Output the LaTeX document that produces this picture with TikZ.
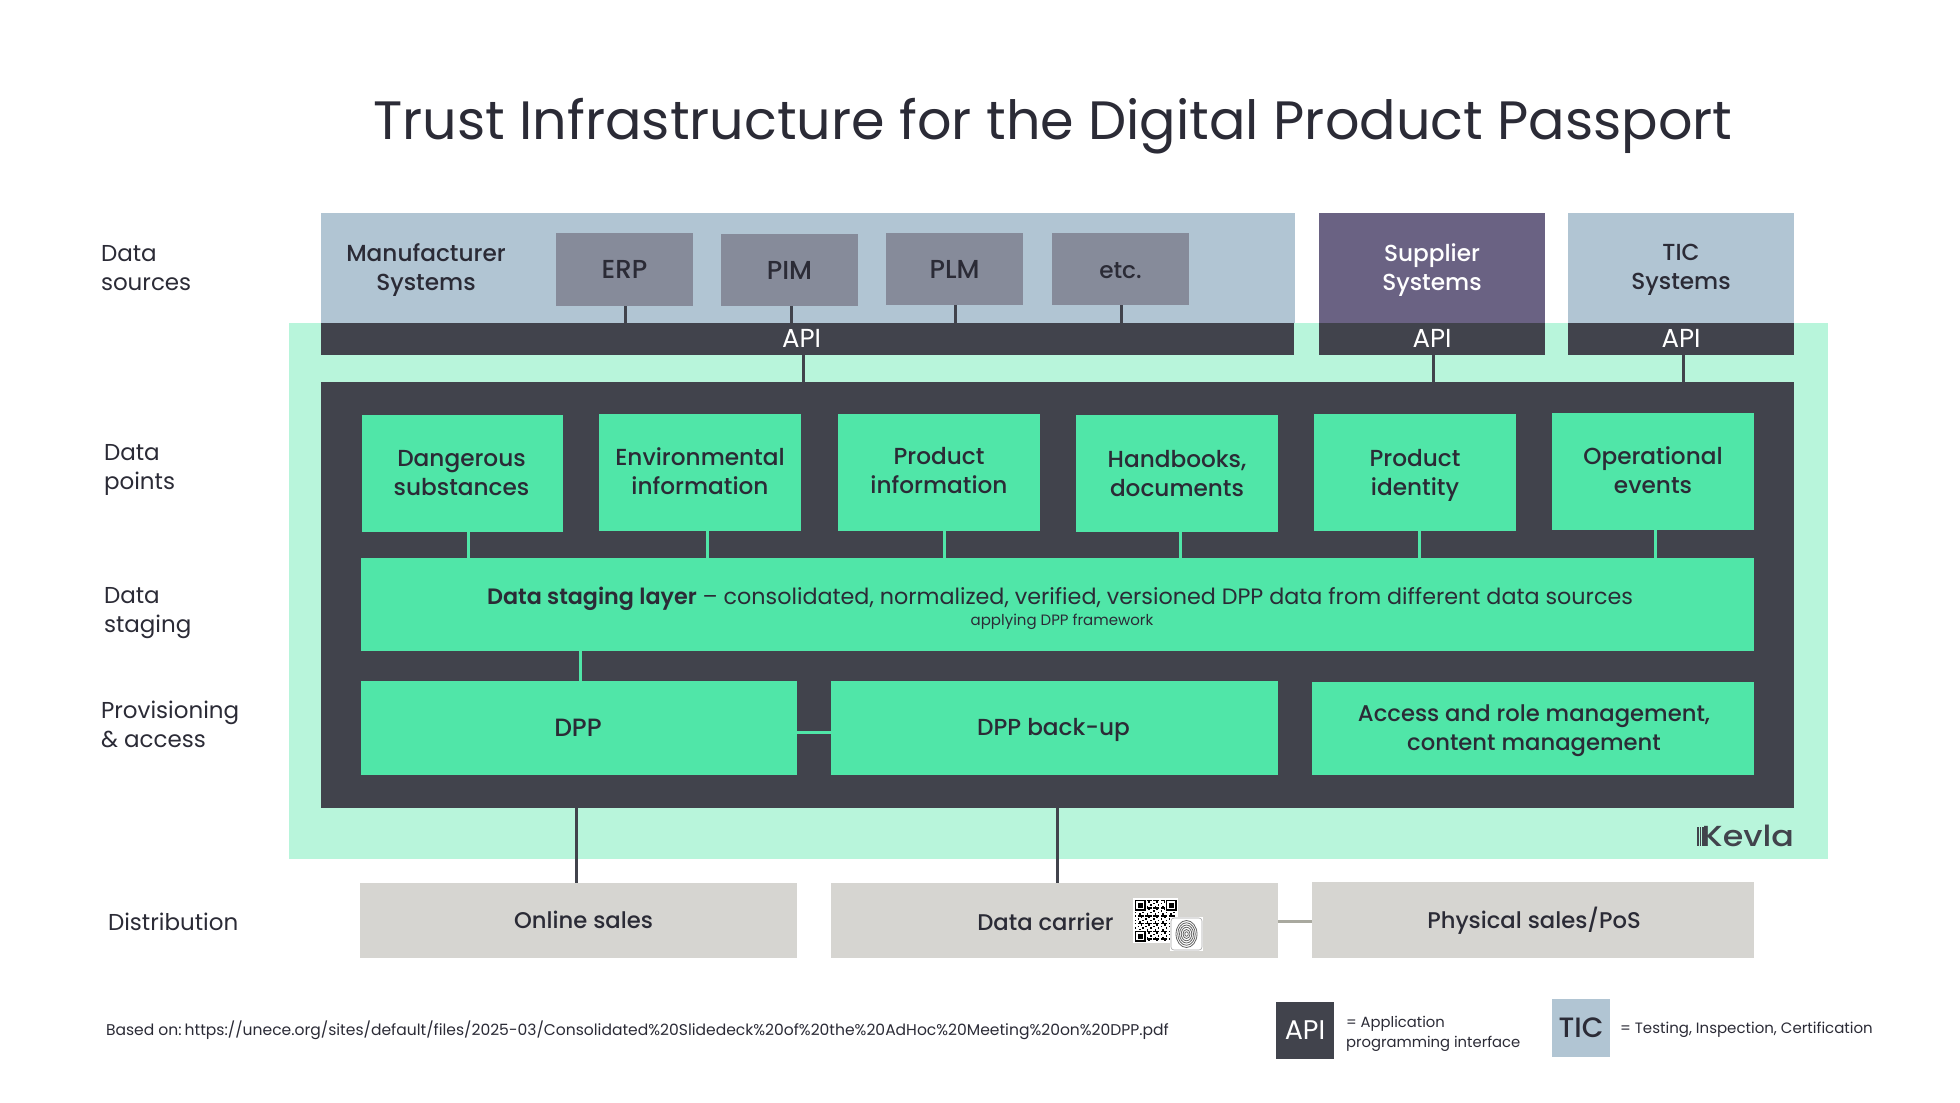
\documentclass[tikz,border=0pt]{standalone}
\usepackage{fontspec}
\setmainfont{Poppins}
\newfontfamily\medf{Poppins}[UprightFont=*-Medium]
\newfontfamily\boldf{Poppins}[UprightFont=*-SemiBold]
\definecolor{ink}{HTML}{2B2B36}
\definecolor{slab}{HTML}{41434C}
\definecolor{grn}{HTML}{50E6A8}
\definecolor{mint}{HTML}{B8F5DB}
\definecolor{bluegrey}{HTML}{B1C5D3}
\definecolor{slate}{HTML}{868B9A}
\definecolor{purp}{HTML}{6A6283}
\definecolor{sand}{HTML}{D6D5D1}
\definecolor{sandline}{HTML}{A9A99F}
\tikzset{
  base/.style={inner sep=0pt,outer sep=0pt,align=center,text=ink},
  boxfs/.style={font=\fontsize{23.2}{29}\selectfont\medf},
  smallfs/.style={font=\fontsize{22.7}{29}\selectfont\medf},
  capsfs/.style={font=\fontsize{26}{29}\selectfont\medf},
  apifs/.style={font=\fontsize{26}{29}\selectfont\rmfamily,text=white},
  lab/.style={base,align=left,anchor=west,font=\fontsize{23}{29}\selectfont},
  darkline/.style={draw=slab,line width=3pt},
  greenline/.style={draw=grn,line width=3pt},
  sandwire/.style={draw=sandline,line width=3pt},
  tiny/.style={base,font=\fontsize{15}{20}\selectfont},
}
% name, x0, y0, x1, y1, box style, text style, text
\newcommand\bx[8]{%
  \pgfmathsetmacro\bw{#4-#2}\pgfmathsetmacro\bh{#5-#3}%
  \node[base,anchor=north west,minimum width=\bw pt,minimum height=\bh pt,#6] (#1) at (#2,#3) {};
  \node[base,boxfs,#7] (#1t) at (#1.center) {#8};}
\begin{document}
\begin{tikzpicture}[x=1pt,y=-1pt]
\useasboundingbox (0,0) rectangle (1960,1103);
\node[base,font=\fontsize{54}{60}\selectfont] (title) at (1053,126) {Trust Infrastructure for the Digital Product Passport};
% labels
\node[lab] (l1) at (101,268) {Data\\sources};
\node[lab] (l2) at (104,470) {Data\\points};
\node[lab] (l3) at (104,613) {Data\\staging};
\node[lab] (l4) at (101,724) {Provisioning\\\& access};
\node[lab] (l5) at (108,922) {Distribution};
% panels
\bx{mintbg}{289}{323}{1828}{859}{fill=mint}{}{}
\bx{manu}{321}{213}{1295}{323}{fill=bluegrey}{xshift=-382pt,yshift=-2pt}{Manufacturer\\Systems}
\bx{supp}{1319}{213}{1545}{323}{fill=purp}{text=white,yshift=-2pt}{Supplier\\Systems}
\bx{ticp}{1568}{213}{1794}{323}{fill=bluegrey}{yshift=-2pt}{TIC\\Systems}
\bx{erp}{556}{233}{693}{306}{fill=slate}{capsfs}{ERP}
\bx{pim}{721}{234}{858}{306}{fill=slate}{capsfs}{PIM}
\bx{plm}{886}{233}{1023}{305}{fill=slate}{capsfs}{PLM}
\bx{etc}{1052}{233}{1189}{305}{fill=slate}{yshift=-2pt}{etc.}
\bx{api1}{321}{323}{1294}{355}{fill=slab}{apifs,xshift=-6pt,yshift=1pt}{API}
\bx{api2}{1319}{323}{1545}{355}{fill=slab}{apifs,yshift=1pt}{API}
\bx{api3}{1568}{323}{1794}{355}{fill=slab}{apifs,yshift=1pt}{API}
\bx{core}{321}{382}{1794}{808}{fill=slab}{}{}
\coordinate (x1) at (625,0);\coordinate (x2) at (791.5,0);\coordinate (x3) at (955.5,0);\coordinate (x4) at (1121,0);
\draw[darkline] (x1 |- erp.south) -- (x1 |- api1.north);
\draw[darkline] (x2 |- pim.south) -- (x2 |- api1.north);
\draw[darkline] (x3 |- plm.south) -- (x3 |- api1.north);
\draw[darkline] (x4 |- etc.south) -- (x4 |- api1.north);
\coordinate (x5) at (803.5,0);\coordinate (x6) at (1433.5,0);\coordinate (x7) at (1683,0);
\draw[darkline] (x5 |- api1.south) -- (x5 |- core.north);
\draw[darkline] (x6 |- api2.south) -- (x6 |- core.north);
\draw[darkline] (x7 |- api3.south) -- (x7 |- core.north);
% data points
\bx{dang}{362}{415}{563}{532}{fill=grn}{xshift=-1pt}{Dangerous\\substances}
\bx{envi}{599}{414}{801}{531}{fill=grn}{yshift=1pt}{Environmental\\information}
\bx{prod}{838}{414}{1040}{531}{fill=grn}{yshift=2pt}{Product\\information}
\bx{hand}{1076}{415}{1278}{532}{fill=grn}{}{Handbooks,\\documents}
\bx{iden}{1314}{414}{1516}{531}{fill=grn}{yshift=-3pt}{Product\\identity}
\bx{oper}{1552}{413}{1754}{530}{fill=grn}{yshift=1pt}{Operational\\events}
\bx{stag}{361}{558}{1754}{651}{fill=grn}{}{}
\node[base,font=\fontsize{22.25}{29}\selectfont] (stagt) at (1060,599) {{\boldf Data staging layer} – consolidated, normalized, verified, versioned DPP data from different data sources};
\node[tiny] (stags) at (1062,622) {applying DPP framework};
\coordinate (g1) at (468.5,0);\coordinate (g2) at (707.5,0);\coordinate (g3) at (944.5,0);\coordinate (g4) at (1180.5,0);\coordinate (g5) at (1419.5,0);\coordinate (g6) at (1655.5,0);\coordinate (g7) at (580.5,0);
\draw[greenline] (g1 |- dang.south) -- (g1 |- stag.north);
\draw[greenline] (g2 |- envi.south) -- (g2 |- stag.north);
\draw[greenline] (g3 |- prod.south) -- (g3 |- stag.north);
\draw[greenline] (g4 |- hand.south) -- (g4 |- stag.north);
\draw[greenline] (g5 |- iden.south) -- (g5 |- stag.north);
\draw[greenline] (g6 |- oper.south) -- (g6 |- stag.north);
% provisioning
\bx{dpp}{361}{681}{797}{775}{fill=grn}{font=\fontsize{25}{29}\selectfont\medf,xshift=-1pt}{DPP}
\bx{back}{831}{681}{1278}{775}{fill=grn}{yshift=-2pt,xshift=-1pt}{DPP back-up}
\bx{acce}{1312}{682}{1754}{775}{fill=grn}{smallfs,yshift=-2pt,xshift=1pt}{Access and role management,\\content management}
\draw[greenline] (g7 |- stag.south) -- (g7 |- dpp.north);
\coordinate (h1) at (0,732);
\draw[greenline] (dpp.east |- h1) -- (back.west |- h1);
% distribution
\bx{onli}{360}{883}{797}{958}{fill=sand}{smallfs,xshift=5pt,yshift=1pt}{Online sales}
\bx{carr}{831}{883}{1278}{958}{fill=sand}{smallfs,xshift=-9pt,yshift=-1pt}{Data carrier}
\bx{phys}{1312}{882}{1754}{958}{fill=sand}{smallfs,yshift=-1pt,xshift=1pt}{Physical sales/PoS}
\coordinate (d1) at (576.5,0);\coordinate (d2) at (1057,0);\coordinate (h2) at (0,921);
\draw[darkline] (d1 |- core.south) -- (d1 |- onli.north);
\draw[darkline] (d2 |- core.south) -- (d2 |- carr.north);
\draw[sandwire] (carr.east |- h2) -- (phys.west |- h2);
% QR code
\fill[white] (1133,898) rectangle (1178,943);
\foreach \i in {0,...,26}{\foreach \j in {0,...,26}{
  \pgfmathparse{int(mod(\i*\i*7+\j*\j*5+\i*\j*3+\i+2*\j,5)<2 ? 1 : 0)}
  \ifnum\pgfmathresult=1
  \fill[black] ({1134.5+\i*1.55},{899.5+\j*1.55}) rectangle ++(1.55,1.55);
  \fi
}}
\foreach \ox/\oy in {1134.5/899.5,1165.5/899.5,1134.5/930.5}{
  \fill[white] (\ox-1,\oy-1) rectangle ++(13,13);
  \fill[black] (\ox,\oy) rectangle ++(11,11);
  \fill[white] (\ox+1.5,\oy+1.5) rectangle ++(8,8);
  \fill[black] (\ox+3,\oy+3) rectangle ++(5,5);
}
% fingerprint
\fill[white] (1170,917) rectangle (1203,951);
\draw[gray!70,line width=.6pt,rounded corners=3pt] (1171,918) rectangle (1202,950);
\foreach \r in {1,...,6}{
  \draw[gray!80!black,line width=.8pt] (1186.5,934) ellipse ({\r*1.75} and {\r*2.25});
}
% logo
\foreach \bxx/\bwd in {1697/1.6,1699.5/1.6,1702/1.6}{\fill[slab] (\bxx,827) rectangle ++(\bwd,19);}
\node[base,anchor=base east,font=\fontsize{29}{29}\selectfont\medf,text=slab] (kevla) at (1794,846) {\scalebox{1.15}[1]{Kevla}};
% footer
\node[base,anchor=west,font=\fontsize{15.55}{18}\selectfont] (foot) at (106,1030) {Based on:\hspace{-2.5pt} https://unece.org/sites/default/files/2025-03/Consolidated\%20Slidedeck\%20of\%20the\%20AdHoc\%20Meeting\%20on\%20DPP.pdf};
\bx{lapi}{1276}{1002}{1334}{1059}{fill=slab}{apifs,font=\fontsize{27}{29}\selectfont\rmfamily}{API}
\bx{ltic}{1552}{999}{1610}{1057}{fill=bluegrey}{font=\fontsize{28}{29}\selectfont\medf}{TIC}
\node[base,anchor=west,align=left,font=\fontsize{14.8}{19.5}\selectfont] (lapit) at (1346,1034) {= Application\\programming interface};
\node[base,anchor=west,font=\fontsize{15}{18}\selectfont] (ltict) at (1620,1030) {= Testing, Inspection, Certification};
\end{tikzpicture}
\end{document}
